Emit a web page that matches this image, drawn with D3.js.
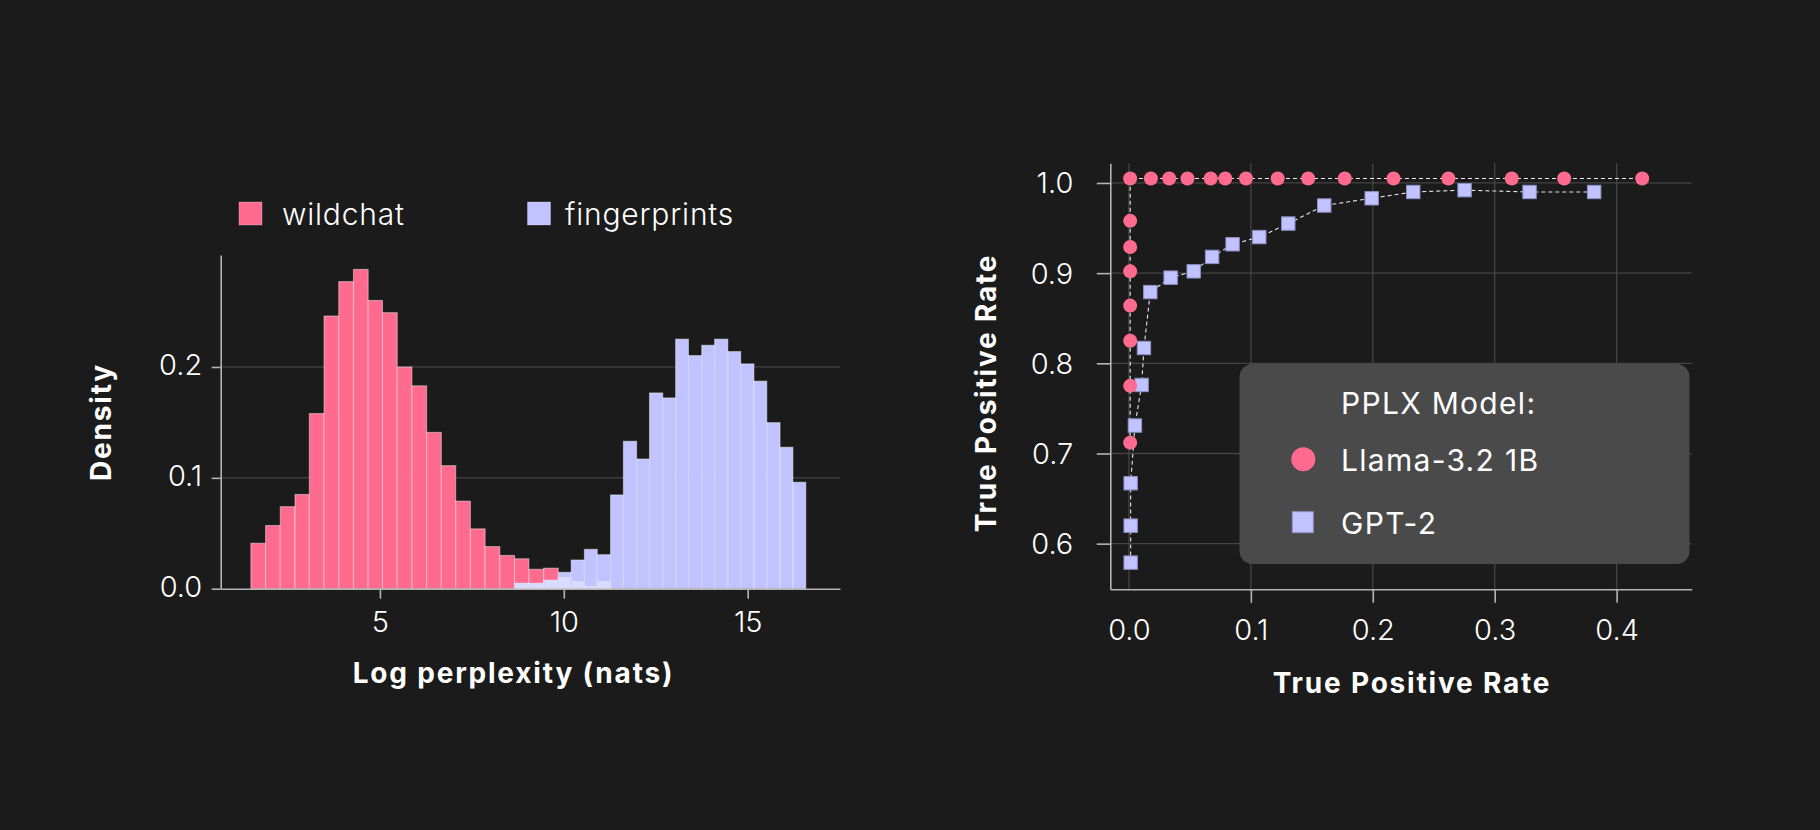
<!DOCTYPE html>
<html>
<head>
<meta charset="utf-8">
<script src="https://cdn.jsdelivr.net/npm/d3@7"></script>
<style>
  html, body { margin: 0; padding: 0; background: #1b1b1b; }
  svg { display: block; }
  text { font-family: Inter, "Noto Sans", "Liberation Sans", sans-serif; fill: #ffffff; }
</style>
</head>
<body>
<svg id="chart" width="1820" height="830"></svg>
<script>
// ---------------- DATA ----------------
// Histogram: bin edges (log perplexity, nats)
const binEdges = [1.49, 1.89, 2.29, 2.69, 3.08, 3.48, 3.88, 4.28, 4.68, 5.07, 5.47,
  5.87, 6.27, 6.67, 7.06, 7.46, 7.86, 8.26, 8.66, 9.05, 9.45, 9.85,
  10.20, 10.56, 10.91, 11.27, 11.62, 11.98, 12.33, 12.69, 13.04, 13.39,
  13.75, 14.10, 14.46, 14.81, 15.17, 15.52, 15.88, 16.23, 16.58];
const wildchatDensity = [0.041, 0.057, 0.074, 0.085, 0.158, 0.246, 0.277, 0.288, 0.260, 0.249,
  0.200, 0.183, 0.141, 0.111, 0.079, 0.054, 0.038, 0.030, 0.027, 0.0175,
  0.0185, 0.0106, 0.0069, 0.0024, 0.0069, 0, 0, 0, 0, 0,
  0, 0, 0, 0, 0, 0, 0, 0, 0, 0];
const fingerprintsDensity = [0, 0, 0, 0, 0, 0, 0, 0, 0, 0,
  0, 0, 0, 0, 0, 0, 0, 0, 0.0049, 0.0049,
  0.0077, 0.0148, 0.0259, 0.0355, 0.0307, 0.0846, 0.1330, 0.1170, 0.1766, 0.1721,
  0.2251, 0.2103, 0.2196, 0.2251, 0.2139, 0.2028, 0.1872, 0.1498, 0.1276, 0.0960];
const histSeries = ["wildchat", "fingerprints"];
const histXTicks = [5, 10, 15];
const histYTicks = [0.0, 0.1, 0.2];
const histXLabel = "Log perplexity (nats)";
const histYLabel = "Density";

// ROC curves
const rocModels = ["Llama-3.2 1B", "GPT-2"];
const llamaFPR = [0.001, 0.001, 0.001, 0.001, 0.001, 0.001, 0.001, 0.001, 0.018, 0.033, 0.048,
  0.067, 0.079, 0.096, 0.122, 0.147, 0.177, 0.217, 0.262, 0.314, 0.357, 0.421];
const llamaTPR = [0.712, 0.775, 0.825, 0.864, 0.902, 0.929, 0.958, 1.005, 1.005, 1.005, 1.005,
  1.005, 1.005, 1.005, 1.005, 1.005, 1.005, 1.005, 1.005, 1.005, 1.005, 1.005];
const gpt2FPR = [0.0014, 0.0014, 0.0014, 0.0049, 0.0104, 0.0123, 0.0175, 0.0342, 0.0531, 0.0682,
  0.0850, 0.1069, 0.1307, 0.1602, 0.1991, 0.2332, 0.2753, 0.3286, 0.3816];
const gpt2TPR = [0.579, 0.620, 0.667, 0.731, 0.776, 0.817, 0.879, 0.895, 0.902, 0.918,
  0.932, 0.940, 0.955, 0.975, 0.983, 0.990, 0.992, 0.990, 0.990];
const rocXTicks = [0.0, 0.1, 0.2, 0.3, 0.4];
const rocYTicks = [0.6, 0.7, 0.8, 0.9, 1.0];
const rocXLabel = "True Positive Rate";
const rocYLabel = "True Positive Rate";
const rocLegendTitle = "PPLX Model:";

// ---------------- STYLE ----------------
const PINK = "#ff6b8f";
const LAV = "#c0c3ff";
const OVER = "#dadcff";
const BG = "#1b1b1b";
const GRID = "#444444";
const AXIS = "#b4b4b4";
const TITLE_STYLE = { size: "28px", weight: 700, spacing: "1.8px" };

const svg = d3.select("#chart");
svg.append("rect").attr("width", 1820).attr("height", 830).attr("fill", BG);

function styleTitle(sel) {
  return sel.attr("text-anchor", "middle")
    .style("font-size", TITLE_STYLE.size).style("font-weight", TITLE_STYLE.weight)
    .style("letter-spacing", TITLE_STYLE.spacing);
}

// ================= HISTOGRAM =================
const H = { left: 220.7, right: 840, top: 255, bottom: 588.7 };
const xH = d3.scaleLinear().domain([0.67, 17.51]).range([H.left, H.right]);
const yH = d3.scaleLinear().domain([0, 0.301]).range([H.bottom, H.top]);
const gH = svg.append("g");

// grid
gH.selectAll("line.grid").data(histYTicks.filter(d => d > 0)).join("line")
  .attr("x1", H.left).attr("x2", H.right)
  .attr("y1", d => yH(d)).attr("y2", d => yH(d))
  .attr("stroke", GRID).attr("stroke-width", 1.3);

const bins = wildchatDensity.map((w, i) => ({
  x0: binEdges[i], x1: binEdges[i + 1], w: w, f: fingerprintsDensity[i]
}));

const barStroke = "rgba(255,255,255,0.42)";
gH.selectAll("rect.pink").data(bins.filter(b => b.w > 0)).join("rect")
  .attr("x", b => xH(b.x0)).attr("width", b => xH(b.x1) - xH(b.x0))
  .attr("y", b => yH(b.w)).attr("height", b => yH(0) - yH(b.w))
  .attr("fill", PINK).attr("stroke", barStroke).attr("stroke-width", 1.1);

gH.selectAll("rect.lav").data(bins.filter(b => b.f > 0)).join("rect")
  .attr("x", b => xH(b.x0)).attr("width", b => xH(b.x1) - xH(b.x0))
  .attr("y", b => yH(b.f)).attr("height", b => yH(0) - yH(b.f))
  .attr("fill", LAV).attr("stroke", barStroke).attr("stroke-width", 1.1);

// overlap (where both distributions share density)
gH.selectAll("rect.over").data(bins.filter(b => b.f > 0 && b.w > 0)).join("rect")
  .attr("x", b => xH(b.x0) + 0.8).attr("width", b => xH(b.x1) - xH(b.x0) - 1.6)
  .attr("y", b => yH(Math.min(b.w, b.f))).attr("height", b => yH(0) - yH(Math.min(b.w, b.f)))
  .attr("fill", OVER);

// axes
const axXH = d3.axisBottom(xH).tickValues(histXTicks).tickSize(10).tickSizeOuter(0)
  .tickFormat(d3.format("d"));
const gxH = gH.append("g").attr("transform", `translate(0,${H.bottom})`).call(axXH);
gxH.select(".domain").attr("stroke", AXIS).attr("stroke-width", 1.6);
gxH.selectAll(".tick line").attr("stroke", AXIS).attr("stroke-width", 1.6);
gxH.selectAll(".tick text").attr("y", 43).attr("dy", 0)
  .style("font-size", "29px").style("font-weight", 300).attr("fill", "#fff");

const axYH = d3.axisLeft(yH).tickValues(histYTicks).tickSize(9).tickSizeOuter(0)
  .tickFormat(d3.format(".1f"));
const gyH = gH.append("g").attr("transform", `translate(${H.left},0)`).call(axYH);
gyH.select(".domain").attr("stroke", AXIS).attr("stroke-width", 1.6);
gyH.selectAll(".tick line").attr("stroke", AXIS).attr("stroke-width", 1.6);
gyH.selectAll(".tick text").attr("x", -18.5).attr("dy", "0.27em")
  .style("font-size", "29px").style("font-weight", 300).attr("fill", "#fff");

styleTitle(gH.append("text").attr("x", 513.5).attr("y", 683)).text(histXLabel);
styleTitle(gH.append("text").attr("transform", "translate(111,422) rotate(-90)")).text(histYLabel);

// legend
const legH = gH.append("g");
const legItems = legH.selectAll("g").data(histSeries).join("g")
  .attr("transform", (d, i) => `translate(${i === 0 ? 239 : 527.5},202)`);
legItems.append("rect").attr("width", 23).attr("height", 23)
  .attr("fill", (d, i) => i === 0 ? PINK : LAV)
  .attr("stroke", "rgba(255,255,255,0.25)").attr("stroke-width", 1);
legItems.append("text").attr("x", (d, i) => i === 0 ? 43 : 37.5).attr("y", 23)
  .style("font-size", "30px").style("font-weight", 300).style("letter-spacing", "0.8px")
  .text(d => d);

// ================= ROC =================
const R = { left: 1110.3, right: 1691.7, top: 163.3, bottom: 589.3 };
const xR = d3.scaleLinear().domain([-0.0153, 0.4616]).range([R.left, R.right]);
const yR = d3.scaleLinear().domain([0.5494, 1.0218]).range([R.bottom, R.top]);
const gR = svg.append("g");

gR.selectAll("line.vg").data(rocXTicks).join("line")
  .attr("x1", d => xR(d)).attr("x2", d => xR(d)).attr("y1", R.top).attr("y2", R.bottom)
  .attr("stroke", GRID).attr("stroke-width", 1.3);
gR.selectAll("line.hg").data(rocYTicks).join("line")
  .attr("x1", R.left).attr("x2", R.right).attr("y1", d => yR(d)).attr("y2", d => yR(d))
  .attr("stroke", GRID).attr("stroke-width", 1.3);

const axXR = d3.axisBottom(xR).tickValues(rocXTicks).tickSize(13.5).tickSizeOuter(0)
  .tickFormat(d3.format(".1f"));
const gxR = gR.append("g").attr("transform", `translate(0,${R.bottom})`).call(axXR);
gxR.select(".domain").attr("stroke", AXIS).attr("stroke-width", 1.6);
gxR.selectAll(".tick line").attr("stroke", AXIS).attr("stroke-width", 1.6)
  .attr("opacity", d => d === 0 ? 0 : 1);
gxR.selectAll(".tick text").attr("y", 50.5).attr("dy", 0)
  .style("font-size", "29px").style("font-weight", 300).attr("fill", "#fff");

const axYR = d3.axisLeft(yR).tickValues(rocYTicks).tickSize(13.5).tickSizeOuter(0)
  .tickFormat(d3.format(".1f"));
const gyR = gR.append("g").attr("transform", `translate(${R.left},0)`).call(axYR);
gyR.select(".domain").attr("stroke", AXIS).attr("stroke-width", 1.6);
gyR.selectAll(".tick line").attr("stroke", AXIS).attr("stroke-width", 1.6);
gyR.selectAll(".tick text").attr("x", -37).attr("dy", "0.34em")
  .style("font-size", "29px").style("font-weight", 300).attr("fill", "#fff");

styleTitle(gR.append("text").attr("x", 1412).attr("y", 692.5)).text(rocXLabel);
styleTitle(gR.append("text").attr("transform", "translate(996,393) rotate(-90)")).text(rocYLabel);

const llama = llamaFPR.map((x, i) => ({ x: x, y: llamaTPR[i] }));
const gpt2 = gpt2FPR.map((x, i) => ({ x: x, y: gpt2TPR[i] }));
const lineGen = d3.line().x(d => xR(d.x)).y(d => yR(d.y));

gR.append("path").datum(gpt2).attr("d", lineGen).attr("fill", "none")
  .attr("stroke", "#e6e6ee").attr("stroke-width", 1.1).attr("stroke-dasharray", "4,3");
gR.append("path").datum(llama).attr("d", lineGen).attr("fill", "none")
  .attr("stroke", "#eeeeee").attr("stroke-width", 1.1).attr("stroke-dasharray", "4,3");

gR.selectAll("rect.sq").data(gpt2).join("rect")
  .attr("x", d => xR(d.x) - 6.7).attr("y", d => yR(d.y) - 6.7)
  .attr("width", 13.4).attr("height", 13.4)
  .attr("fill", LAV).attr("stroke", "#8e90c8").attr("stroke-width", 1);
gR.selectAll("circle.pt").data(llama).join("circle")
  .attr("cx", d => xR(d.x)).attr("cy", d => yR(d.y)).attr("r", 7)
  .attr("fill", PINK);

// legend box
const legR = gR.append("g");
legR.append("rect").attr("x", 1239.5).attr("y", 364).attr("width", 450).attr("height", 200)
  .attr("rx", 13).attr("fill", "#4a4a4a");
legR.append("text").attr("x", 1341).attr("y", 413.5)
  .style("font-size", "30px").style("font-weight", 400).style("letter-spacing", "1.3px")
  .text(rocLegendTitle);
legR.append("circle").attr("cx", 1303.3).attr("cy", 459.3).attr("r", 12).attr("fill", PINK);
legR.append("rect").attr("x", 1292.3).attr("y", 511.7).attr("width", 21).attr("height", 21)
  .attr("fill", LAV).attr("stroke", "#8e90c8").attr("stroke-width", 1);
legR.selectAll("text.item").data(rocModels).join("text")
  .attr("x", 1341).attr("y", (d, i) => i === 0 ? 471 : 533.5)
  .style("font-size", "30px").style("font-weight", 400).style("letter-spacing", "1.3px")
  .text(d => d);
</script>
</body>
</html>
